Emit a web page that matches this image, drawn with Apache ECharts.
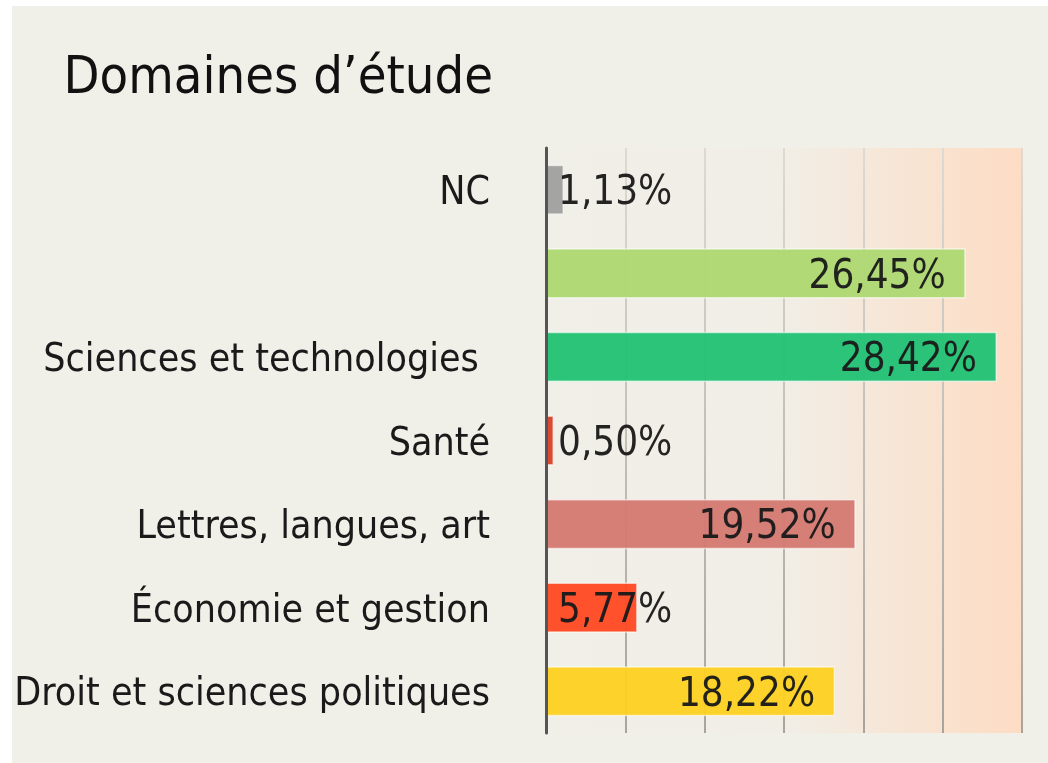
<!DOCTYPE html>
<html>
<head>
<meta charset="utf-8">
<script src="https://cdn.jsdelivr.net/npm/echarts@6/dist/echarts.min.js"></script>
<style>
  html, body { margin: 0; padding: 0; background: #fff; }
  #chart { position: absolute; left: 12px; top: 6px; width: 1036px; height: 757px; background: #f0efe8; }
</style>
</head>
<body>
<div id="chart"></div>
<script>
// categories listed bottom to top (category axis order)
const categories = [
  'Droit et sciences politiques',
  'Économie et gestion',
  'Lettres, langues, art',
  'Santé',
  'Sciences et technologies ',
  '',
  'NC'
]
const values = [18.22, 5.77, 19.52, 0.50, 28.42, 26.45, 1.13]
const colors = ['#fdd022', '#ff4a24', '#d47a72', '#d8432c', '#22c275', '#aed873', '#a0a0a0']
const axisTicks = [0, 5, 10, 15, 20, 25, 30]

const FONT = '"Liberation Sans Narrow", "DejaVu Sans Condensed", sans-serif'

const chart = echarts.init(document.getElementById('chart'), null, { renderer: 'canvas' })

const fmt = v => v.toFixed(2).replace('.', ',') + '%'

chart.setOption({
  backgroundColor: 'transparent',
  title: {
    text: 'Domaines d’étude',
    right: 550,
    top: 42,
    textStyle: {
      fontFamily: FONT,
      fontSize: 52,
      fontWeight: 'normal',
      color: '#111'
    }
  },
  grid: {
    left: 534,
    right: 26,
    top: 142,
    bottom: 30,
    containLabel: false,
    outerBoundsMode: 'none',
    show: true,
    borderWidth: 0,
    backgroundColor: {
      type: 'linear', x: 0, y: 0, x2: 1, y2: 0,
      colorStops: [
        { offset: 0, color: '#f0efe8' },
        { offset: 0.5, color: '#f1eee6' },
        { offset: 1, color: '#fddcc3' }
      ]
    }
  },
  xAxis: {
    type: 'value',
    min: axisTicks[0],
    max: axisTicks[axisTicks.length - 1],
    interval: 5,
    axisLabel: { show: false },
    axisLine: { show: false },
    axisTick: { show: false },
    splitLine: {
      show: true,
      lineStyle: {
        width: 2,
        color: {
          type: 'linear', x: 0, y: 142, x2: 0, y2: 727, global: true,
          colorStops: [
            { offset: 0, color: '#dedad2' },
            { offset: 1, color: '#a8a49c' }
          ]
        }
      }
    }
  },
  yAxis: {
    type: 'category',
    data: categories,
    z: 5,
    axisTick: { show: false },
    axisLine: { show: true, lineStyle: { color: '#555', width: 3 } },
    axisLabel: {
      margin: 56,
      formatter: v => v ? '{c|' + v + '}' : '',
      rich: {
        c: {
          padding: [8, 0, 0, 0],
          fontFamily: FONT,
          fontSize: 39,
          color: '#1a1a1a'
        }
      }
    }
  },
  series: [{
    type: 'bar',
    barWidth: '60%',
    data: values.map((v, i) => ({
      value: v,
      itemStyle: { color: colors[i] },
      label: v < 8
        ? { position: 'insideLeft', distance: 12 }
        : { position: 'insideRight', distance: 20 }
    })),
    itemStyle: {
      opacity: 0.96,
      borderColor: 'rgba(255,255,255,0.6)',
      borderWidth: 1.5
    },
    label: {
      show: true,
      formatter: p => fmt(p.value),
      offset: [0, 4],
      fontFamily: FONT,
      fontSize: 40,
      color: '#1a1a1a'
    },
    emphasis: { disabled: true }
  }]
})
</script>
</body>
</html>
